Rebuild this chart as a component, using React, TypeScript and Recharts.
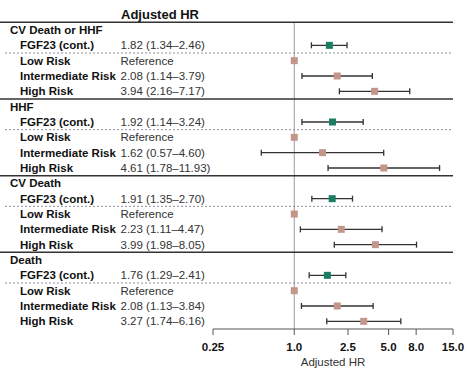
import {
  ScatterChart,
  Scatter,
  XAxis,
  YAxis,
  ErrorBar,
  ReferenceLine,
  Label
} from "recharts";

const outcomes = ["CV Death or HHF", "HHF", "CV Death", "Death"];
const rowNames = ["FGF23 (cont.)", "Low Risk", "Intermediate Risk", "High Risk"];

// hazard ratios per outcome: FGF23, Low, Intermediate, High
const hrValues = [
  [1.82, 1.0, 2.08, 3.94],
  [1.92, 1.0, 1.62, 4.61],
  [1.91, 1.0, 2.23, 3.99],
  [1.76, 1.0, 2.08, 3.27]
];
const ciLow = [
  [1.34, null, 1.14, 2.16],
  [1.14, null, 0.57, 1.78],
  [1.35, null, 1.11, 1.98],
  [1.29, null, 1.13, 1.74]
];
const ciHigh = [
  [2.46, null, 3.79, 7.17],
  [3.24, null, 4.6, 11.93],
  [2.7, null, 4.47, 8.05],
  [2.41, null, 3.84, 6.16]
];

const xTicks = [0.25, 1, 2.5, 5, 8, 15];
const xTickLabels = ["0.25", "1.0", "2.5", "5.0", "8.0", "15.0"];

const solidRows = [-0.5, 4.5, 9.5, 14.5];
const dottedRows = [1.5, 6.5, 11.5, 16.5];

const GREEN = "#1b7d62";
const TAN = "#c3968a";

const fmt = (v: number) => v.toFixed(2);

const rowOf = (g: number, k: number) => g * 5 + k + 1;

const fgfData = outcomes.map((_, g) => ({
  row: rowOf(g, 0),
  hr: hrValues[g][0],
  err: [hrValues[g][0] - (ciLow[g][0] as number), (ciHigh[g][0] as number) - hrValues[g][0]]
}));

const riskData = outcomes.flatMap((_, g) =>
  [2, 3].map((k) => ({
    row: rowOf(g, k),
    hr: hrValues[g][k],
    err: [hrValues[g][k] - (ciLow[g][k] as number), (ciHigh[g][k] as number) - hrValues[g][k]]
  }))
);

const refData = outcomes.map((_, g) => ({ row: rowOf(g, 1), hr: hrValues[g][1] }));

const yTicks = Array.from({ length: 21 }, (_, i) => i - 1);

function RowTick(props: any) {
  const { y, payload } = props;
  const r = payload.value;
  const base = { dominantBaseline: "central", fontSize: 11.5 } as any;
  if (r === -1) {
    return (
      <text x={121} y={y} {...base} fontSize={13} fontWeight="bold" fill="#111">
        Adjusted HR
      </text>
    );
  }
  const g = Math.floor(r / 5);
  const k = r % 5;
  if (k === 0) {
    return (
      <text x={10} y={y} {...base} fontWeight="bold" fill="#111">
        {outcomes[g]}
      </text>
    );
  }
  const i = k - 1;
  const valueText =
    ciLow[g][i] == null
      ? "Reference"
      : `${fmt(hrValues[g][i])} (${fmt(ciLow[g][i] as number)}\u2013${fmt(ciHigh[g][i] as number)})`;
  return (
    <g>
      <text x={20} y={y} {...base} fontWeight="bold" fill="#111">
        {rowNames[i]}
      </text>
      <text x={120.5} y={y} {...base} fill="#333">
        {valueText}
      </text>
    </g>
  );
}

const square = (fill: string) => (p: any) => (
  <rect x={p.cx - 3.5} y={p.cy - 3.5} width={7} height={7} fill={fill} />
);

const fullLine = (dotted: boolean) => (p: any) => (
  <line
    x1={dotted ? 5 : 0}
    x2={p.x2}
    y1={p.y1}
    y2={p.y2}
    stroke={dotted ? "#8c90a0" : "#333"}
    strokeWidth={dotted ? 1 : 1.5}
    strokeDasharray={dotted ? "2 2" : undefined}
  />
);

export default function App() {
  return (
    <div style={{ position: "absolute", left: 0, top: 0, background: "#fff" }}>
      <ScatterChart
        width={474}
        height={377}
        margin={{ top: 7, right: 21, bottom: 8, left: 0 }}
        style={{ fontFamily: "'Liberation Sans', Arial, sans-serif" }}
      >
        <XAxis
          dataKey="hr"
          type="number"
          scale="log"
          domain={[0.25, 15]}
          allowDataOverflow
          ticks={xTicks}
          tickFormatter={(v: number) => xTickLabels[xTicks.indexOf(v)] ?? String(v)}
          tick={{ fontSize: 11.5, fontWeight: "bold", fill: "#111" }}
          tickSize={6}
          tickMargin={8}
          stroke="#555"
          height={40}
        >
          <Label value="Adjusted HR" position="insideBottom" offset={3} fontSize={11.5} fill="#333" />
        </XAxis>
        <YAxis
          dataKey="row"
          type="number"
          domain={[-1.5, 19.5]}
          reversed
          allowDataOverflow
          ticks={yTicks}
          interval={0}
          width={213}
          axisLine={false}
          tickLine={false}
          tick={<RowTick />}
        />
        <ReferenceLine
          segment={[{ x: 1, y: -0.5 }, { x: 1, y: 19.5 }]}
          stroke="#999"
          strokeWidth={1}
        />
        {solidRows.map((r) => (
          <ReferenceLine key={"s" + r} y={r} shape={fullLine(false)} />
        ))}
        {dottedRows.map((r) => (
          <ReferenceLine key={"d" + r} y={r} shape={fullLine(true)} />
        ))}
        <Scatter data={fgfData} shape={square(GREEN)} isAnimationActive={false}>
          <ErrorBar dataKey="err" direction="x" width={3} stroke="#333" strokeWidth={1.3} />
        </Scatter>
        <Scatter data={riskData} shape={square(TAN)} isAnimationActive={false}>
          <ErrorBar dataKey="err" direction="x" width={3} stroke="#333" strokeWidth={1.3} />
        </Scatter>
        <Scatter data={refData} shape={square(TAN)} isAnimationActive={false} />
      </ScatterChart>
    </div>
  );
}
